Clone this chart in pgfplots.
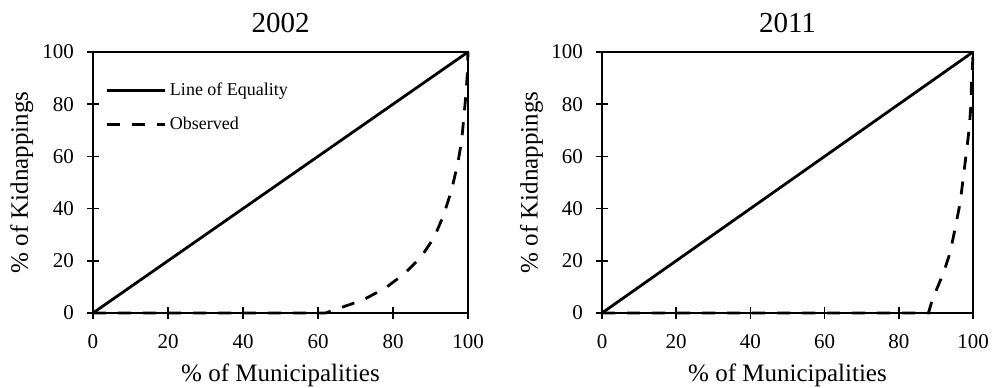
\documentclass[border=0pt]{standalone}
\usepackage{pgfplots}
\pgfplotsset{compat=1.18}
\usepackage{fontspec}
\setmainfont{Liberation Serif}

\pgfplotsset{
  lorenz/.style={
    scale only axis,
    width=375bp, height=261bp,
    xmin=0, xmax=100, ymin=0, ymax=100,
    xtick={0,20,40,60,80,100},
    ytick={0,20,40,60,80,100},
    xtick pos=bottom, ytick pos=left,
    tick align=center,
    major tick length=12bp,
    axis line style={line width=1.6bp},
    every tick/.style={black, line width=1.6bp},
    /pgf/number format/assume math mode=true,
    tick label style={font=\fontsize{21bp}{24bp}\selectfont},
    xticklabel style={inner sep=0pt, yshift=-15bp},
    yticklabel style={inner sep=0pt, xshift=-13bp},
    label style={font=\fontsize{25bp}{28bp}\selectfont},
    xlabel={\% of Municipalities},
    ylabel={\% of Kidnappings},
    xlabel style={at={(axis description cs:0.5,0)}, anchor=center, yshift=-62bp},
    ylabel style={at={(axis description cs:-0.19,0.5)}, anchor=center},
    title style={at={(0.5,1)}, anchor=south, inner sep=0pt, yshift=13bp, font=\fontsize{29bp}{32bp}\selectfont},
    clip=false,
  },
  eq/.style={black, line width=2.8bp},
  obs/.style={black, line width=2.8bp, dash pattern=on 13bp off 12bp},
}

\begin{document}
\begin{tikzpicture}
\useasboundingbox (-93bp,-75bp) rectangle (899bp,313bp);

\begin{axis}[lorenz, at={(0bp,0bp)}, anchor=south west, title={2002},
  legend style={at={(0,1)}, anchor=north west, xshift=12bp, yshift=-29bp,
    draw=none, fill=none, inner sep=0pt,
    font=\fontsize{18bp}{21bp}\selectfont,
    row sep=16bp,
    nodes={inner sep=2bp}},
  legend cell align=left,
  legend image code/.code={\draw[#1] (0bp,0bp) -- (58bp,0bp);},
  every odd column/.style={},
  legend style={every even column/.style={}, /tikz/column 2/.style={column sep=0pt}},
  legend style={nodes={inner xsep=4bp}},
]
\addplot[eq] coordinates {(0,0) (100,100)};
\addlegendentry{Line of Equality}
\addplot[obs] coordinates {
(0,0) (62,0) (66,2) (72,5) (78,9.6) (83,15) (87.5,21.5) (91,29) (93.5,37.5)
(95.6,47) (97.3,57.5) (98.3,66) (98.9,75) (99.4,83) (99.8,91) (100,100)};
\addlegendentry{Observed}
\end{axis}

\begin{axis}[lorenz, width=371bp, at={(509bp,0bp)}, anchor=south west, title={2011}]
\addplot[eq] coordinates {(0,0) (100,100)};
\addplot[obs] coordinates {
(0,0) (88,0) (89,5) (92,15.2) (93.8,23) (95.1,31.8) (96.5,42) (97.4,52)
(98.3,62.5) (99,71) (99.4,79) (99.6,88) (99.9,96) (100,100)};
\end{axis}
\end{tikzpicture}
\end{document}
